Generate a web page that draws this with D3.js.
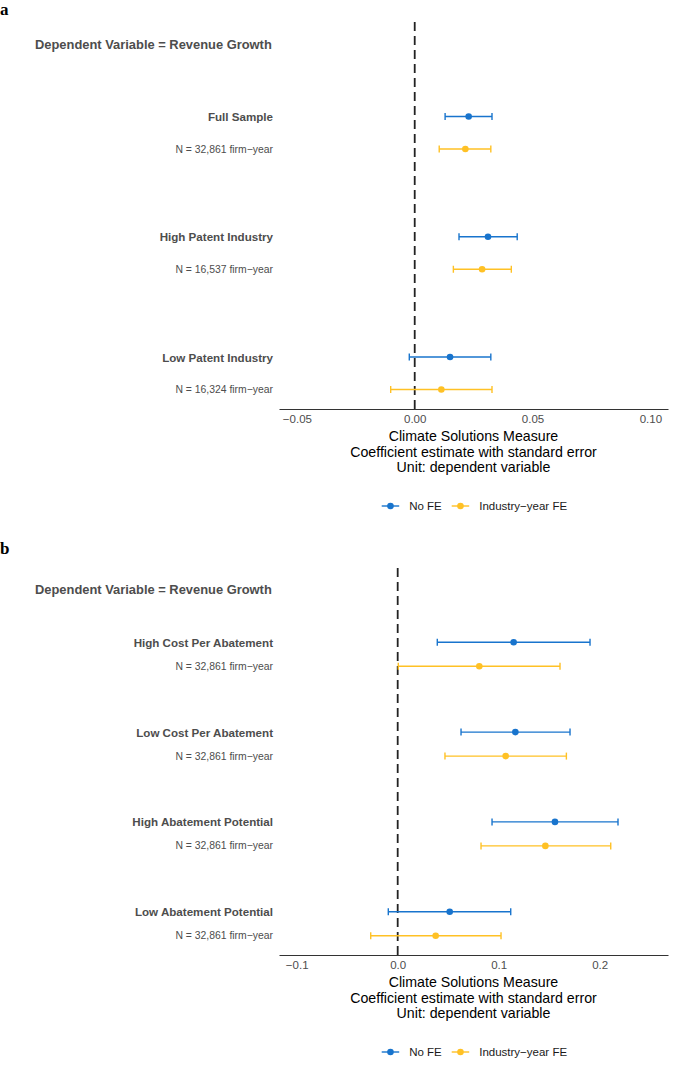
<!DOCTYPE html>
<html>
<head>
<meta charset="utf-8">
<script src="https://cdn.jsdelivr.net/npm/d3@7"></script>
<style>
  body { margin: 0; background: #fff; }
  svg { display: block; font-family: "Liberation Sans", Arial, sans-serif; }
</style>
</head>
<body>
<svg id="chart" width="675" height="1079"></svg>
<script>
// ---- data: panel a ----
const headerA = "Dependent Variable = Revenue Growth"
const groupsA = ["Full Sample", "High Patent Industry", "Low Patent Industry"]
const nLabelsA = ["N = 32,861 firm−year", "N = 16,537 firm−year", "N = 16,324 firm−year"]
const estNoFeA = [0.0229, 0.0311, 0.0150]
const loNoFeA = [0.0129, 0.0188, -0.0023]
const hiNoFeA = [0.0328, 0.0435, 0.0323]
const estFeA = [0.0215, 0.0286, 0.0113]
const loFeA = [0.0104, 0.0164, -0.0102]
const hiFeA = [0.0323, 0.0410, 0.0328]
const ticksA = [-0.05, 0, 0.05, 0.10]

// ---- data: panel b ----
const headerB = "Dependent Variable = Revenue Growth"
const groupsB = ["High Cost Per Abatement", "Low Cost Per Abatement", "High Abatement Potential", "Low Abatement Potential"]
const nLabelsB = ["N = 32,861 firm−year", "N = 32,861 firm−year", "N = 32,861 firm−year", "N = 32,861 firm−year"]
const estNoFeB = [0.1148, 0.1165, 0.1557, 0.0515]
const loNoFeB = [0.0392, 0.0627, 0.0934, -0.0093]
const hiNoFeB = [0.1904, 0.1706, 0.2181, 0.1119]
const estFeB = [0.0808, 0.1069, 0.1462, 0.0376]
const loFeB = [0.0006, 0.0468, 0.0825, -0.0267]
const hiFeB = [0.1607, 0.1670, 0.2109, 0.1023]
const ticksB = [-0.1, 0, 0.1, 0.2]

const seriesNames = ["No FE", "Industry−year FE"]
const titleLines = ["Climate Solutions Measure", "Coefficient estimate with standard error", "Unit: dependent variable"]

const colors = ["#1874CD", "#FFC125"]
const labelGrey = "#4d4d4d"

const svg = d3.select("#chart")

const drawPanel = (opts) => {
  const g = svg.append("g")

  const x = d3.scaleLinear()
    .domain(opts.domain)
    .range([279, 668])

  const yGroup = d3.scaleLinear()
    .domain([0, opts.groups.length - 1])
    .range([opts.firstY, opts.lastY])

  // panel letter
  g.append("text")
    .attr("x", 0)
    .attr("y", opts.letterY)
    .attr("font-family", "'Liberation Serif', 'DejaVu Serif', serif")
    .attr("font-weight", "bold")
    .attr("font-size", 17)
    .text(opts.letter)

  // header
  g.append("text")
    .attr("x", 35)
    .attr("y", opts.headerY)
    .attr("dominant-baseline", "central")
    .attr("font-weight", "bold")
    .attr("font-size", 12.9)
    .attr("fill", labelGrey)
    .text(opts.header)

  // zero line
  g.append("line")
    .attr("x1", x(0)).attr("x2", x(0))
    .attr("y1", opts.top).attr("y2", opts.axisY)
    .attr("stroke", "#222")
    .attr("stroke-width", 1.8)
    .attr("stroke-dasharray", "9,5")

  const series = [
    { est: opts.estNoFe, lo: opts.loNoFe, hi: opts.hiNoFe, dy: 0 },
    { est: opts.estFe, lo: opts.loFe, hi: opts.hiFe, dy: opts.inner },
  ]

  opts.groups.forEach((name, i) => {
    const gy = yGroup(i)
    g.append("text")
      .attr("x", 273)
      .attr("y", gy)
      .attr("text-anchor", "end")
      .attr("dominant-baseline", "central")
      .attr("font-weight", "bold")
      .attr("font-size", 11.6)
      .attr("fill", labelGrey)
      .text(name)
    g.append("text")
      .attr("x", 273)
      .attr("y", gy + opts.inner)
      .attr("text-anchor", "end")
      .attr("dominant-baseline", "central")
      .attr("font-size", 10.4)
      .attr("fill", labelGrey)
      .text(opts.nLabels[i])

    series.forEach((s, k) => {
      const yy = gy + s.dy
      const row = g.append("g")
        .attr("stroke", colors[k])
        .attr("stroke-width", 1.4)
      row.append("line")
        .attr("x1", x(s.lo[i])).attr("x2", x(s.hi[i]))
        .attr("y1", yy).attr("y2", yy)
      ;[s.lo[i], s.hi[i]].forEach(v => {
        row.append("line")
          .attr("x1", x(v)).attr("x2", x(v))
          .attr("y1", yy - 3.5).attr("y2", yy + 3.5)
      })
      g.append("circle")
        .attr("cx", x(s.est[i]))
        .attr("cy", yy)
        .attr("r", 3.3)
        .attr("fill", colors[k])
    })
  })

  // x axis
  const axis = g.append("g")
    .attr("transform", `translate(0, ${opts.axisY})`)
    .call(d3.axisBottom(x)
      .tickValues(opts.ticks)
      .tickFormat(d3.format(opts.fmt))
      .tickSize(0)
      .tickPadding(6))
  axis.select(".domain")
    .attr("stroke", "#333")
    .attr("stroke-width", 1.1)
  axis.selectAll(".tick text")
    .attr("font-family", "'Liberation Sans', Arial, sans-serif")
    .attr("font-size", 11.5)
    .attr("fill", labelGrey)

  // axis title
  titleLines.forEach((t, j) => {
    g.append("text")
      .attr("x", (279 + 668) / 2)
      .attr("y", opts.axisY + 27 + j * 15.5)
      .attr("text-anchor", "middle")
      .attr("dominant-baseline", "central")
      .attr("font-size", 14.2)
      .attr("fill", "#000")
      .text(t)
  })

  // legend
  const ly = opts.axisY + 97
  const keyX = [381.7, 451.7]
  seriesNames.forEach((name, k) => {
    g.append("line")
      .attr("x1", keyX[k]).attr("x2", keyX[k] + 17.5)
      .attr("y1", ly).attr("y2", ly)
      .attr("stroke", colors[k])
      .attr("stroke-width", 1.4)
    g.append("circle")
      .attr("cx", keyX[k] + 8.75)
      .attr("cy", ly)
      .attr("r", 3.3)
      .attr("fill", colors[k])
    g.append("text")
      .attr("x", keyX[k] + 27.5)
      .attr("y", ly)
      .attr("dominant-baseline", "central")
      .attr("font-size", 11.5)
      .attr("fill", "#1a1a1a")
      .text(name)
  })
}

drawPanel({
  letter: "a", letterY: 15,
  header: headerA, headerY: 44,
  groups: groupsA, nLabels: nLabelsA,
  estNoFe: estNoFeA, loNoFe: loNoFeA, hiNoFe: hiNoFeA,
  estFe: estFeA, loFe: loFeA, hiFe: hiFeA,
  domain: [-0.0576, 0.1075], ticks: ticksA, fmt: ".2f",
  top: 22, firstY: 116.5, lastY: 357, inner: 32.5, axisY: 409,
})

drawPanel({
  letter: "b", letterY: 554,
  header: headerB, headerY: 589.3,
  groups: groupsB, nLabels: nLabelsB,
  estNoFe: estNoFeB, loNoFe: loNoFeB, hiNoFe: hiNoFeB,
  estFe: estFeB, loFe: loFeB, hiFe: hiFeB,
  domain: [-0.1175, 0.2676], ticks: ticksB, fmt: ".1f",
  top: 568, firstY: 642.3, lastY: 911.7, inner: 24, axisY: 955,
})
</script>
</body>
</html>
